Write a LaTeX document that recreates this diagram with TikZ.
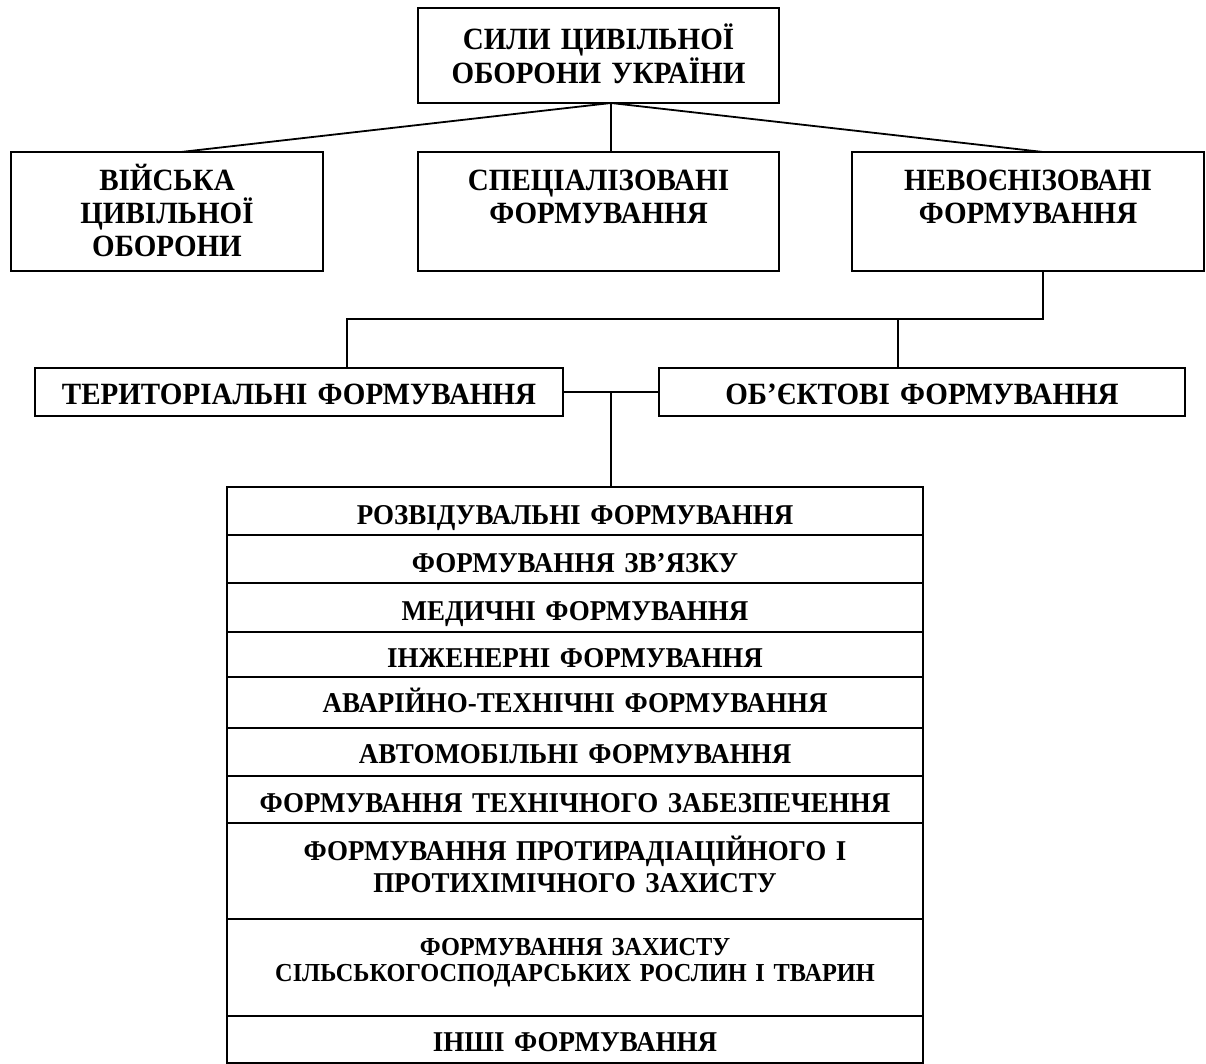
\documentclass[tikz,border=0pt]{standalone}
\usepackage{fontspec}
\setmainfont{Liberation Serif}[FakeStretch=0.94]
\begin{document}
\begin{tikzpicture}[x=1pt,y=-1pt,
  frame/.style={draw, line width=2pt, inner sep=0pt, outer sep=0pt},
  link/.style={line width=1.8pt},
  lbl/.style={inner sep=0pt, outer sep=0pt, align=center, anchor=base,
    text width=#1, font=\fontsize{28.7}{33}\selectfont\bfseries},
  lbl/.default=680pt,
  big/.style={font=\fontsize{30.9}{33}\selectfont\bfseries},
]
\useasboundingbox (0,0) rectangle (1206,1064);

% top level
\node[frame, minimum width=361pt, minimum height=95pt] (top) at (598.5,55.5) {};
\node[lbl=355pt, font=\fontsize{30.9}{28}\selectfont\bfseries] (toptxt) at (598.5,50)
  {СИЛИ ЦИВІЛЬНОЇ\\ОБОРОНИ УКРАЇНИ};

% second level
\node[frame, minimum width=312pt, minimum height=119pt] (mil) at (167,211.5) {};
\node[frame, minimum width=361pt, minimum height=119pt] (spec) at (598.5,211.5) {};
\node[frame, minimum width=352pt, minimum height=119pt] (nevo) at (1028,211.5) {};
\node[lbl=300pt, big] (miltxt) at (167,191) {ВІЙСЬКА\\ЦИВІЛЬНОЇ\\ОБОРОНИ};
\node[lbl=355pt, big] (spectxt) at (598.5,191) {СПЕЦІАЛІЗОВАНІ\\ФОРМУВАННЯ};
\node[lbl=345pt, big] (nevotxt) at (1028,191) {НЕВОЄНІЗОВАНІ\\ФОРМУВАННЯ};

% third level
\node[frame, minimum width=528pt, minimum height=48pt] (terr) at (299,392) {};
\node[frame, minimum width=526pt, minimum height=48pt] (obj) at (922,392) {};
\node[lbl=520pt, big] (terrtxt) at (299,404) {ТЕРИТОРІАЛЬНІ ФОРМУВАННЯ};
\node[lbl=520pt, big] (objtxt) at (922,404) {ОБ’ЄКТОВІ ФОРМУВАННЯ};

% list of formations
\node[frame, minimum width=696pt, minimum height=48pt] (r1) at (575,511) {};
\node[frame, minimum width=696pt, minimum height=48pt] (r2) at (575,559) {};
\node[frame, minimum width=696pt, minimum height=49pt] (r3) at (575,607.5) {};
\node[frame, minimum width=696pt, minimum height=45pt] (r4) at (575,654.5) {};
\node[frame, minimum width=696pt, minimum height=51pt] (r5) at (575,702.5) {};
\node[frame, minimum width=696pt, minimum height=48pt] (r6) at (575,752) {};
\node[frame, minimum width=696pt, minimum height=47pt] (r7) at (575,799.5) {};
\node[frame, minimum width=696pt, minimum height=96pt] (r8) at (575,871) {};
\node[frame, minimum width=696pt, minimum height=97pt] (r9) at (575,967.5) {};
\node[frame, minimum width=696pt, minimum height=47pt] (r10) at (575,1039.5) {};

\node[lbl] (t1) at (575,524) {РОЗВІДУВАЛЬНІ ФОРМУВАННЯ};
\node[lbl] (t2) at (575,572) {ФОРМУВАННЯ ЗВ’ЯЗКУ};
\node[lbl] (t3) at (575,620) {МЕДИЧНІ ФОРМУВАННЯ};
\node[lbl] (t4) at (575,667) {ІНЖЕНЕРНІ ФОРМУВАННЯ};
\node[lbl] (t5) at (575,712) {АВАРІЙНО-ТЕХНІЧНІ ФОРМУВАННЯ};
\node[lbl] (t6) at (575,763) {АВТОМОБІЛЬНІ ФОРМУВАННЯ};
\node[lbl] (t7) at (575,812) {ФОРМУВАННЯ ТЕХНІЧНОГО ЗАБЕЗПЕЧЕННЯ};
\node[lbl, font=\fontsize{28.7}{32}\selectfont\bfseries] (t8) at (575,860)
  {ФОРМУВАННЯ ПРОТИРАДІАЦІЙНОГО І\\ПРОТИХІМІЧНОГО ЗАХИСТУ};
\node[lbl, font=\fontsize{25.9}{26}\selectfont\bfseries] (t9) at (575,955)
  {ФОРМУВАННЯ ЗАХИСТУ\\СІЛЬСЬКОГОСПОДАРСЬКИХ РОСЛИН І ТВАРИН};
\node[lbl] (t10) at (575,1051) {ІНШІ ФОРМУВАННЯ};

% attachment points on the boxes
\coordinate (hub)   at ([xshift=12.5pt]top.south);
\coordinate (milin) at ([xshift=14pt]mil.north);
\coordinate (nvin)  at ([xshift=15pt]nevo.north);
\coordinate (nvout) at ([xshift=15pt]nevo.south);
\coordinate (split) at ([yshift=-48pt]nvout);
\coordinate (trin)  at ([xshift=48pt]terr.north);
\coordinate (obin)  at ([xshift=-24pt]obj.north);
\coordinate (lsin)  at ([xshift=36pt]r1.north);

% connectors
\draw[link] (hub) -- (milin);
\draw[link] (hub) -- (hub |- spec.north);
\draw[link] (hub) -- (nvin);

\draw[link] (nvout) -- (split) -- (split -| trin) -- (trin);
\draw[link] (obin |- split) -- (obin);

\draw[link] (terr.east) -- (obj.west);
\draw[link] (lsin |- terr.east) -- (lsin);
\end{tikzpicture}
\end{document}
